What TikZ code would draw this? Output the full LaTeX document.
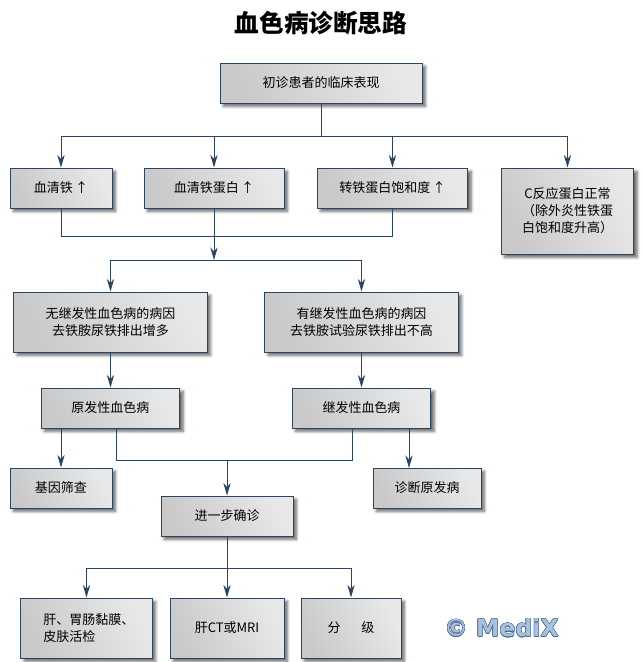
\documentclass[tikz,border=0pt]{standalone}
\usepackage{fontspec}
\usepackage{contour}
\setmainfont{Noto Sans CJK SC}
\newfontfamily\markfont{DejaVu Sans}
\usetikzlibrary{arrows.meta, shadows.blur}
\definecolor{linecol}{HTML}{2A4560}
\definecolor{markcol}{HTML}{A9C0DF}
\definecolor{markline}{HTML}{4A6A94}
\contourlength{0.35pt}

\begin{document}
\begin{tikzpicture}[
    x=0.75pt, y=-0.75pt,
    font=\fontsize{9.75pt}{12.75pt}\selectfont,
    box/.style={draw=linecol, line width=0.75pt, align=center, inner sep=0pt,
      left color=black!21, right color=black!9, shading angle=115,
      blur shadow={shadow xshift=2.5pt, shadow yshift=-2.5pt, shadow blur steps=6, shadow opacity=60}},
    smallbox/.style={box, minimum height=30pt},
    tallbox/.style={box, minimum height=45pt},
    arr/.style={-{Stealth[length=9.5pt, width=5.5pt]}, draw=linecol, line width=0.75pt},
    lin/.style={draw=linecol, line width=0.75pt},
]
\useasboundingbox (0,0) rectangle (642,662);

\node[font=\fontsize{18.5pt}{22pt}\selectfont\bfseries] (title) at (321,23) {血色病诊断思路};

% ============ first level ============
\node[smallbox, minimum width=151.5pt] (onset) at (321,83) {初诊患者的临床表现};
\node[smallbox, minimum width=76.5pt] (iron) at (61,188) {血清铁\,↑};
\node[smallbox, minimum width=105pt] (ferritin) at (214,188) {血清铁蛋白\,↑};
\node[smallbox, minimum width=113pt] (satur) at (392.5,188) {转铁蛋白饱和度\,↑};
\node[box, minimum width=99.5pt, minimum height=64.5pt] (crp) at (567.5,211) {C反应蛋白正常\\（除外炎性铁蛋\\白饱和度升高）};

\coordinate (split) at (321,136);
\draw[lin] (onset.south) -- (split);
\draw[arr] (split) -| (iron.north);
\draw[arr] (split) -| (ferritin.north);
\draw[arr] (split) -| (satur.north);
\draw[arr] (split) -| (crp.north);

% ============ causes ============
\node[tallbox, minimum width=145pt] (nocause) at (110.5,322) {无继发性血色病的病因\\去铁胺尿铁排出增多};
\node[tallbox, minimum width=145pt] (cause) at (361.5,322) {有继发性血色病的病因\\去铁胺试验尿铁排出不高};

\coordinate (join) at (214,236);
\coordinate (fork) at (214,260);
\draw[lin] (iron.south) |- (join);
\draw[lin] (satur.south) |- (join);
\draw[arr] (ferritin.south) -- (fork);
\draw[arr] (fork) -| (nocause.north);
\draw[arr] (fork) -| (cause.north);

% ============ primary and secondary ============
\node[smallbox, minimum width=104pt] (primary) at (110.5,408) {原发性血色病};
\node[smallbox, minimum width=104pt] (second) at (361.5,408) {继发性血色病};
\node[smallbox, minimum width=76.5pt] (gene) at (61,488) {基因筛查};
\node[smallbox, minimum width=81pt] (origin) at (427,488) {诊断原发病};
\node[smallbox, minimum width=99pt] (confirm) at (227,516) {进一步确诊};

\draw[arr] (nocause) -- (primary);
\draw[arr] (cause) -- (second);

\coordinate (gtop) at (61,428);
\coordinate (otop) at (409,468);
\coordinate (pout) at (116,428);
\coordinate (sout) at (352,428);
\coordinate (merge) at (227,460);
\draw[arr] (gtop) -- (gene.north);
\draw[arr] (second.south -| otop) -- (otop);
\draw[lin] (pout) |- (merge);
\draw[lin] (sout) |- (merge);
\draw[arr] (merge) -- (confirm.north);

% ============ last row ============
\node[tallbox, minimum width=98.5pt, text width=98.5pt, align=left] (biopsy) at (86.5,628) {\hspace*{17pt}肝、胃肠黏膜、\\\hspace*{17pt}皮肤活检};
\node[tallbox, minimum width=85.5pt] (ct) at (227,628) {肝CT或MRI};
\node[tallbox, minimum width=75pt] (grade) at (351,628) {分\hspace{15.5pt}级};

\coordinate (branch) at (227,568);
\draw[arr] (confirm.south) -- (ct.north);
\draw[arr] (branch) -| (biopsy.north);
\draw[arr] (branch) -| (grade.north);

\node[font=\markfont\fontsize{17.7pt}{20pt}\selectfont\bfseries, text=markcol] (mark) at (501.5,628) {\contour{markline}{© MediX}};

\end{tikzpicture}
\end{document}
